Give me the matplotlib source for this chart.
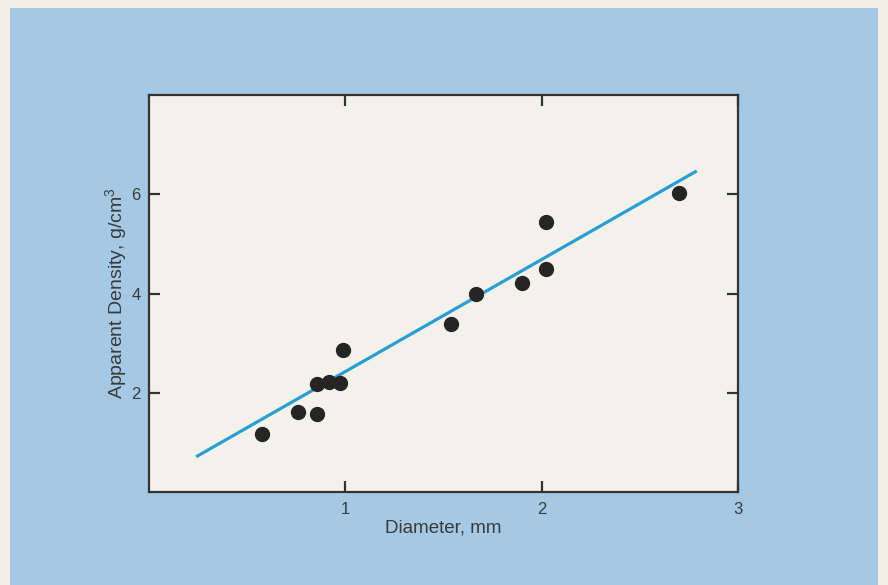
import matplotlib.pyplot as plt
from matplotlib.patches import Rectangle

diameter = [0.575, 0.757, 0.854, 0.854, 0.915, 0.971, 0.99, 1.54, 1.667, 1.90, 2.02, 2.02, 2.70]
density = [1.17, 1.61, 1.57, 2.18, 2.22, 2.20, 2.86, 3.39, 3.99, 4.21, 4.50, 5.44, 6.03]

# fitted line end points
fit_x = [0.24, 2.79]
fit_y = [0.71, 6.47]

x_ticks = [1, 2, 3]
y_ticks = [2, 4, 6]

plt.rcParams['font.family'] = ['Liberation Sans', 'DejaVu Sans']
plt.rcParams['mathtext.default'] = 'regular'

W, H = 888, 585
fig = plt.figure(figsize=(W / 100, H / 100), dpi=100)
fig.patch.set_facecolor('#f1f0e6')
# blue panel behind the chart
fig.patches.append(Rectangle((10 / W, 0), (878 - 10) / W, (585 - 8) / H,
                             transform=fig.transFigure, facecolor='#a5c9e4',
                             edgecolor='none', zorder=-10))

ax = fig.add_axes([149 / W, (H - 492) / H, (738 - 149) / W, (492 - 95) / H])
ax.set_facecolor('#f3f2ea')

ax.plot(fit_x, fit_y, color='#2a9dd2', lw=2.3, solid_capstyle='butt', zorder=2)
ax.plot(diameter, density, 'o', color='#252525', ms=10, zorder=3)

ax.set_xlim(0, 3)
ax.set_ylim(0, 8)
ax.set_xticks(x_ticks)
ax.set_yticks(y_ticks)
ax.tick_params(direction='in', length=8, width=1.6, color='#333333',
               top=True, right=True, labelsize=12, labelcolor='#3a3a3a')
ax.tick_params(axis='x', pad=7)
ax.tick_params(axis='y', pad=6)
for s in ax.spines.values():
    s.set_linewidth(1.6)
    s.set_color('#333333')

ax.set_xlabel('Diameter, mm', fontsize=13.5, color='#3a3a3a', labelpad=2)
ax.set_ylabel('Apparent Density, g/cm$^{3}$', fontsize=14, color='#3a3a3a')
ax.yaxis.set_label_coords(-0.034, 0.5)

fig.savefig('out.png', dpi=100, facecolor=fig.get_facecolor())
